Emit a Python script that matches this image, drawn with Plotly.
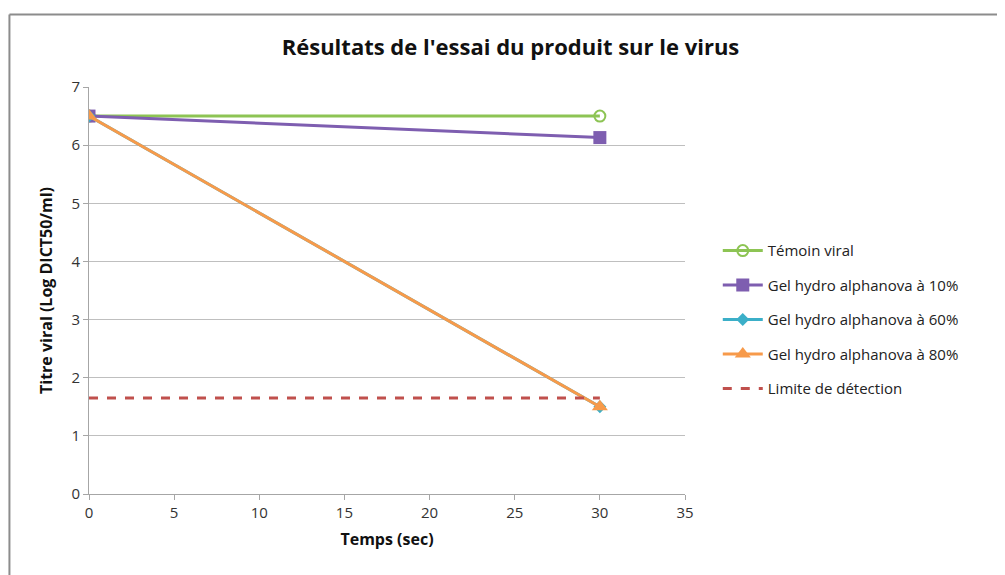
import plotly.graph_objects as go

times = [0, 30]
temoin = [6.5, 6.5]
gel10 = [6.5, 6.13]
gel60 = [6.5, 1.5]
gel80 = [6.5, 1.5]
limite = [1.65, 1.65]

x_ticks = [0, 5, 10, 15, 20, 25, 30, 35]
y_ticks = [0, 1, 2, 3, 4, 5, 6, 7]

FONT = "Open Sans"

fig = go.Figure()
fig.add_trace(go.Scatter(x=times, y=temoin, name="Témoin viral", mode="lines+markers", legendgroup="a",
                         line=dict(color="#8DC454", width=3),
                         marker=dict(symbol="circle-open", size=11, color="#8DC454", line=dict(width=2))))
fig.add_trace(go.Scatter(x=times, y=gel10, name="Gel hydro alphanova à 10%", mode="lines+markers", legendgroup="b",
                         line=dict(color="#7E5EB0", width=3),
                         marker=dict(symbol="square", size=13, color="#7E5EB0")))
fig.add_trace(go.Scatter(x=times, y=gel60, name="Gel hydro alphanova à 60%", mode="lines+markers", legendgroup="c",
                         line=dict(color="#3BAFC8", width=3),
                         marker=dict(symbol="diamond", size=10, color="#3BAFC8")))
fig.add_trace(go.Scatter(x=times, y=gel80, name="Gel hydro alphanova à 80%", mode="lines+markers", legendgroup="d",
                         line=dict(color="#F79A4A", width=3),
                         marker=dict(symbol="triangle-up", size=14, color="#F79A4A")))
fig.add_trace(go.Scatter(x=times, y=limite, name="Limite de détection", mode="lines", legendgroup="e",
                         line=dict(color="#C0504D", width=3, dash="dash")))

fig.update_layout(
    width=1005, height=575,
    paper_bgcolor="white", plot_bgcolor="white",
    margin=dict(l=81, r=328, t=79, b=89, autoexpand=False),
    title=dict(text="<b>Résultats de l'essai du produit sur le virus</b>",
               x=0.5, xanchor="center", y=0.932, yanchor="middle",
               font=dict(family=FONT, size=22, color="#111111")),
    font=dict(family=FONT, size=14, color="#333333"),
    legend=dict(x=1.055, y=0.638, xanchor="left", yanchor="top",
                font=dict(family=FONT, size=15, color="#222222"),
                tracegroupgap=12, itemwidth=40, bgcolor="rgba(0,0,0,0)"),
    showlegend=True,
)
fig.update_xaxes(range=[0, 35], tickvals=x_ticks, showgrid=False, zeroline=False, automargin=False,
                 showline=True, linecolor="#A6A6A6", linewidth=1,
                 ticks="outside", tickcolor="#A6A6A6", ticklen=5,
                 title=dict(text="<b>Temps (sec)</b>", font=dict(family=FONT, size=16, color="#111111"), standoff=12),
                 tickfont=dict(size=15, color="#333333"))
fig.update_yaxes(range=[0, 7], tickvals=y_ticks, showgrid=True, gridcolor="#BFBFBF", gridwidth=1,
                 zeroline=False, showline=True, linecolor="#A6A6A6", linewidth=1, automargin=False,
                 ticks="outside", tickcolor="#A6A6A6", ticklen=5,
                 title=dict(text="<b>Titre viral (Log DICT50/ml)</b>", font=dict(family=FONT, size=16, color="#111111"), standoff=14),
                 tickfont=dict(size=15, color="#333333"))

# outer chart frame (left and top edges visible in the reference)
fig.add_shape(type="line", xref="paper", yref="paper",
              x0=-0.1335, x1=-0.1335, y0=-0.3, y1=1.178,
              line=dict(color="#8C8C8C", width=2), layer="below")
fig.add_shape(type="line", xref="paper", yref="paper",
              x0=-0.1335, x1=1.6, y0=1.178, y1=1.178,
              line=dict(color="#8C8C8C", width=2), layer="below")

fig.write_html("out.html")
